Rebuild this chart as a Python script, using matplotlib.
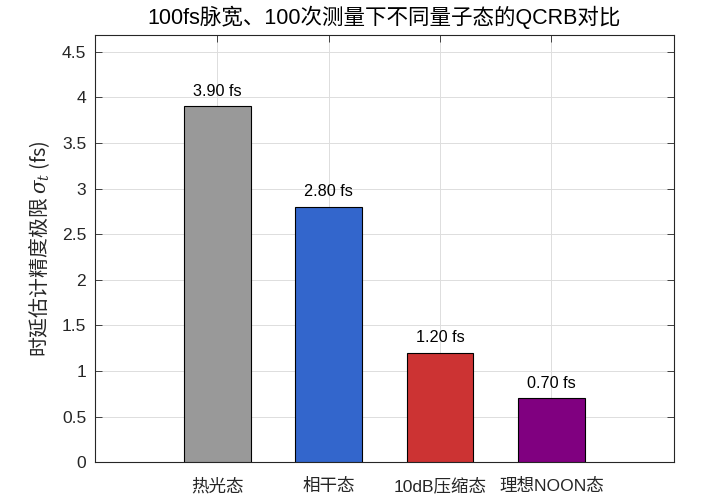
import matplotlib
matplotlib.use('Agg')
import matplotlib.pyplot as plt

plt.rcParams['font.family'] = ['Liberation Sans', 'Noto Sans CJK SC', 'DejaVu Sans']
plt.rcParams['mathtext.fontset'] = 'custom'
plt.rcParams['mathtext.rm'] = 'Noto Sans CJK SC'
plt.rcParams['mathtext.it'] = 'DejaVu Serif:italic'
plt.rcParams['mathtext.fallback'] = 'stixsans'

# data
states = ['热光态', '相干态', '10dB压缩态', '理想NOON态']
qcrb = [3.90, 2.80, 1.20, 0.70]
colors = ['#999999', '#3366CC', '#CC3333', '#800080']
yticks = [0, 0.5, 1, 1.5, 2, 2.5, 3, 3.5, 4, 4.5]
ytick_labels = ['0', '0.5', '1', '1.5', '2', '2.5', '3', '3.5', '4', '4.5']

pos = [1, 2, 3, 4]

fig = plt.figure(figsize=(7.07, 5.03), dpi=100)
ax = fig.add_axes([0.1337, 0.0809, 0.8196, 0.8491])

ax.bar(pos, qcrb, width=0.6, color=colors, edgecolor='black', linewidth=0.8, zorder=3)

for p, v in zip(pos, qcrb):
    ax.text(p, v + 0.085, '%.2f fs' % v, ha='center', va='bottom', fontsize=11.7, color='black', zorder=4)

ax.set_xlim(-0.1, 5.1)
ax.set_ylim(0, max(qcrb) * 1.2)
ax.set_xticks(pos)
ax.set_xticklabels(states, fontsize=12.6, color='#262626')
ax.set_yticks(yticks)
ax.set_yticklabels(ytick_labels, fontsize=12.6, color='#262626')
ax.tick_params(axis='x', direction='in', top=True, length=5, width=0.6, color='#262626', pad=11)
ax.tick_params(axis='y', direction='in', right=True, length=5, width=0.6, color='#262626', pad=6)

ax.grid(True, color='#dddddd', linewidth=0.7, zorder=0)
ax.set_axisbelow(True)
for s in ax.spines.values():
    s.set_color('#262626')
    s.set_linewidth(0.8)

ax.set_ylabel('时延估计精度极限 $\\sigma_t$ (fs)', fontsize=14.3, color='#262626', labelpad=7,
              family='Noto Sans CJK SC', fontweight='light')
ax.set_title('100fs脉宽、100次测量下不同量子态的QCRB对比', fontsize=15.5, color='black', pad=8)

fig.savefig('out.png', dpi=100)
